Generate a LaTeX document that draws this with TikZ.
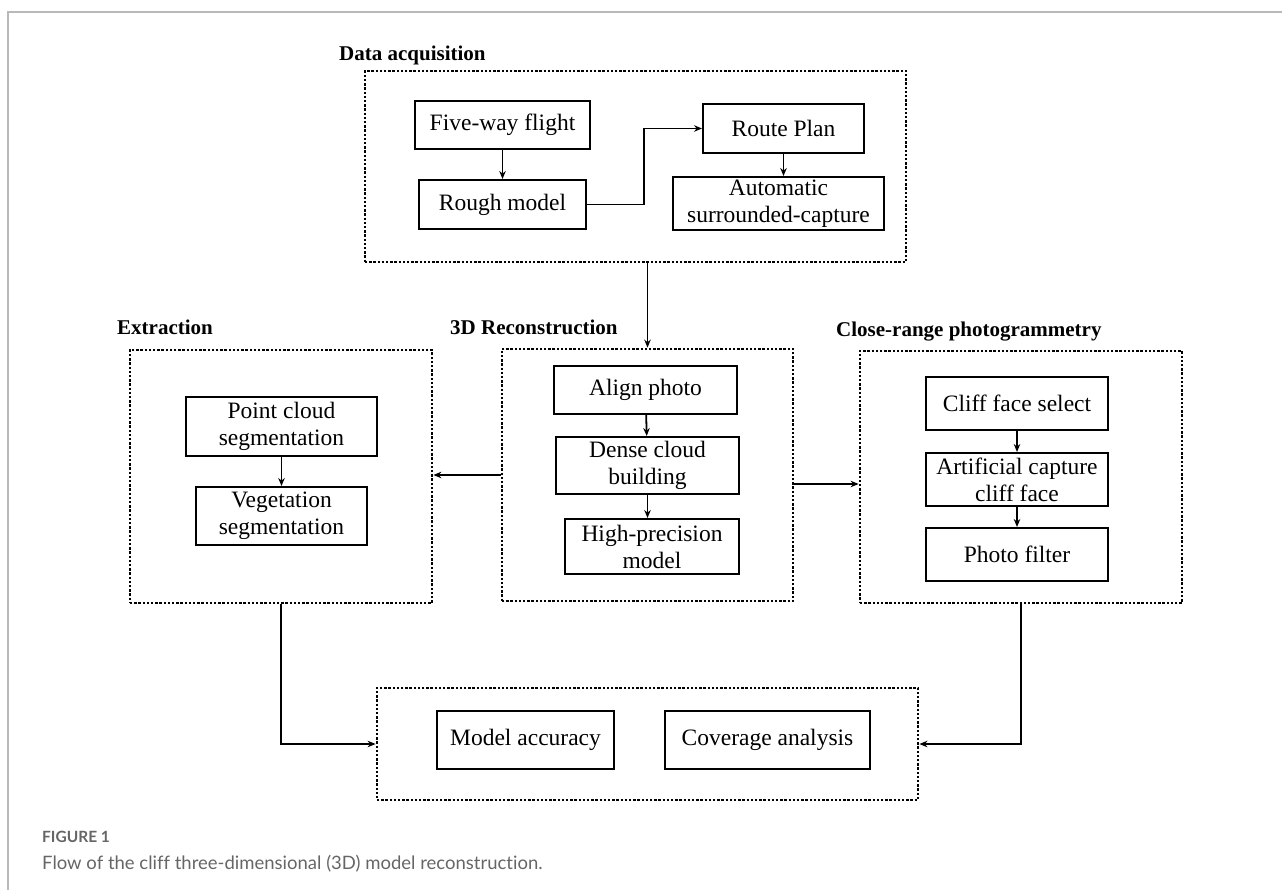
\documentclass[tikz,border=0pt]{standalone}
\usepackage{fontspec}
\setmainfont{Liberation Serif}
\newfontfamily\capfont[Ligatures=NoCommon]{Lato}
\usetikzlibrary{arrows.meta}

\tikzset{
  blk/.style={draw, line width=2pt, inner sep=0pt, align=center,
    font=\fontsize{23.5}{27}\selectfont},
  grp/.style={draw, line width=2.8pt, dash pattern=on 2.4pt off 1.8pt, inner sep=0pt},
  ttl/.style={anchor=base west, inner sep=0pt, font=\fontsize{21}{24}\selectfont\bfseries},
  arr/.style={line width=1.8pt, -{Stealth[length=8pt,width=6.5pt]}},
  lin/.style={line width=1.8pt}
}

\begin{document}
\begin{tikzpicture}[x=1pt,y=-1pt]
\useasboundingbox (0,0) rectangle (1282,890);
\draw[gray!55, line width=1.6pt] (8,890) -- (8,12) -- (1282,12);

\node[ttl] (tacq) at (339,61) {Data acquisition};
\node[grp, minimum width=541pt, minimum height=191pt] (acq) at (635.5,166.5) {};
\node[blk, minimum width=175pt, minimum height=48pt] (five) at (502.5,125) {Five-way flight};
\node[blk, minimum width=167pt, minimum height=49pt] (rough) at (502.5,204.5) {Rough model};
\node[blk, minimum width=161pt, minimum height=49pt] (route) at (783.5,128.5) {Route Plan};
\node[blk, minimum width=211pt, minimum height=53pt] (auto) at (778.5,203.5) {Automatic\\surrounded-capture};

\node[ttl] (text) at (117,335) {Extraction};
\node[grp, minimum width=302pt, minimum height=253pt] (extr) at (281,476.5) {};
\node[blk, minimum width=191pt, minimum height=59pt] (pcs) at (281.5,426.5) {Point cloud\\segmentation};
\node[blk, minimum width=171pt, minimum height=58pt] (veg) at (281.5,516) {Vegetation\\segmentation};

\node[ttl] (trec) at (450,335) {3D Reconstruction};
\node[grp, minimum width=291pt, minimum height=252pt] (rec) at (647.5,475) {};
\node[blk, minimum width=183pt, minimum height=48pt] (align) at (645.5,390) {Align photo};
\node[blk, minimum width=183pt, minimum height=57pt] (dense) at (647.5,465.5) {Dense cloud\\building};
\node[blk, minimum width=174pt, minimum height=55pt] (high) at (652,546.5) {High-precision\\model};

\node[ttl] (tcrp) at (836,337) {Close-range photogrammetry};
\node[grp, minimum width=322pt, minimum height=252pt] (crp) at (1021,477) {};
\node[blk, minimum width=182pt, minimum height=53pt] (cliff) at (1017,403.5) {Cliff face select};
\node[blk, minimum width=182pt, minimum height=53pt] (art) at (1017,479.5) {Artificial capture\\cliff face};
\node[blk, minimum width=182pt, minimum height=53pt] (filt) at (1017,554.5) {Photo filter};

\node[grp, minimum width=541pt, minimum height=112pt] (ana) at (647.5,744) {};
\node[blk, minimum width=177pt, minimum height=58pt] (acc) at (525.5,740) {Model accuracy};
\node[blk, minimum width=205pt, minimum height=58pt] (cov) at (767.5,740) {Coverage analysis};

\draw[arr] (five) -- (rough);
\draw[arr] (rough.east) -- (644,204.5) |- (route.west);
\draw[arr] (route) -- (auto.north -| route.south);
\draw[arr] (acq.south -| rec.north) -- (rec.north);
\draw[arr] (align) -- (dense);
\draw[arr] (dense) -- (dense.south |- high.north);
\draw[arr] (pcs) -- (veg);
\draw[arr] (cliff) -- (art);
\draw[arr] (art) -- (filt);
\draw[arr] (rec.west) -- (rec.west -| extr.east);
\draw[arr] ([yshift=-9pt]rec.east) -- ([yshift=-9pt]rec.east -| crp.west);
\draw[arr] (extr.south) |- (ana.west);
\draw[arr] (crp.south) |- (ana.east);

\node[anchor=base west, inner sep=0pt, text=gray!80!black, font=\capfont\bfseries\fontsize{15.5}{18}\selectfont] (fig) at (42,842) {FIGURE 1};
\node[anchor=base west, inner sep=0pt, text=gray!80!black, font=\capfont\fontsize{18.5}{22}\selectfont] (cap) at (42,869) {Flow of the cliff three-dimensional (3D) model reconstruction.};
\end{tikzpicture}
\end{document}
